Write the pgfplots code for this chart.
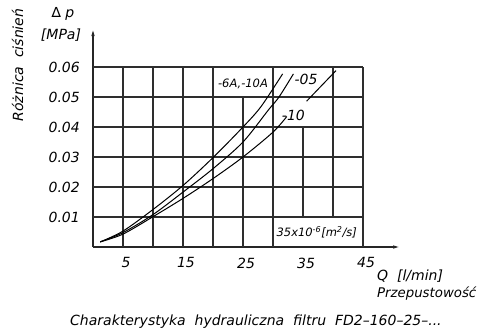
\documentclass[border=0pt]{standalone}
\usepackage{pgfplots}
\pgfplotsset{compat=1.18}
\usepackage{pgfplotstable}
\usepackage{fontspec}
\setmainfont{DejaVu Sans}
\usetikzlibrary{arrows.meta}

\pgfplotstableread{
x y
1.2 0.0017
5 0.0053
10 0.0125
15 0.0205
20 0.0298
25 0.0400
28 0.0468
31.6 0.0577
}\curveA
\pgfplotstableread{
x y
1.2 0.0017
5 0.0048
10 0.0108
15 0.0183
20 0.0261
25 0.0350
29.2 0.0456
31 0.0500
33.4 0.0577
}\curveB
\pgfplotstableread{
x y
1.2 0.0017
5 0.0043
10 0.0101
15 0.0162
20 0.0228
25 0.0300
30 0.0383
32.3 0.0435
35.6 0.0486
38 0.0536
40.5 0.0588
}\curveC

\newcommand{\bigf}{\fontsize{14}{16}\selectfont\itshape}
\newcommand{\smallf}{\fontsize{11.5}{13}\selectfont\itshape}
\tikzset{gridl/.style={line width=1.5pt, black!82}}

\begin{document}
\begin{tikzpicture}[x=1pt,y=1pt]
\useasboundingbox (0,0) rectangle (479,330);
\begin{axis}[
  at={(93pt,83pt)}, anchor=south west,
  x=6pt, y=3000pt,
  xmin=0, xmax=51.5, ymin=0, ymax=0.0733,
  axis lines=left,
  axis line style={line width=1.5pt, color=black!85, -{Latex[length=9pt,width=3.4pt]}},
  xtick={5,15,25,35,45},
  xticklabels={5,15,25,35,45},
  ytick={0.01,0.02,0.03,0.04,0.05,0.06},
  yticklabels={0.01,0.02,0.03,0.04,0.05,0.06},
  scaled y ticks=false, scaled x ticks=false,
  major tick length=0pt,
  tick label style={font=\bigf, inner sep=0pt},
  xticklabel style={anchor=north, yshift=-10.5pt, xshift=3pt},
  yticklabel style={anchor=east, xshift=-13pt},
  clip=false,
]
% grid
\draw[gridl]
  (axis cs:0,0.01) -- (axis cs:45,0.01)
  (axis cs:0,0.02) -- (axis cs:45,0.02)
  (axis cs:0,0.03) -- (axis cs:45,0.03)
  (axis cs:0,0.04) -- (axis cs:45,0.04)
  (axis cs:0,0.05) -- (axis cs:45,0.05)
  (axis cs:0,0.06) -- (axis cs:45,0.06);
\draw[gridl] (axis cs:5,0) -- (axis cs:5,0.06);
\draw[gridl] (axis cs:10,0) -- (axis cs:10,0.06);
\draw[gridl] (axis cs:15,0) -- (axis cs:15,0.06);
\draw[gridl] (axis cs:20,0) -- (axis cs:20,0.06);
\draw[gridl] (axis cs:25,0) -- (axis cs:25,0.05);
\draw[gridl] (axis cs:30,0) -- (axis cs:30,0.06);
\draw[gridl] (axis cs:35,0.01) -- (axis cs:35,0.04);
\draw[gridl] (axis cs:40,0.01) -- (axis cs:40,0.06);
\draw[gridl] (axis cs:45,0) -- (axis cs:45,0.06);
% curves
\addplot[smooth, line width=1pt, black] table {\curveA};
\addplot[smooth, line width=1pt, black] table {\curveB};
\addplot[smooth, line width=1pt, black, restrict x to domain=0:32.5] table {\curveC};
\addplot[smooth, line width=1pt, black, restrict x to domain=35:41] table {\curveC};
% labels
\node[inner sep=0pt, font=\smallf] at (axis cs:25.0,0.0542) {-6A,-10A};
\node[inner sep=0pt, font=\bigf] at (axis cs:35.5,0.0559) {-05};
\node[inner sep=0pt, font=\bigf] at (axis cs:33.4,0.0439) {-10};
\node[inner sep=0pt, font=\smallf] at (axis cs:37.3,0.0049) {35x10\textsuperscript{-6}[m\textsuperscript{2}/s]};
\end{axis}
\node[anchor=base west, inner sep=0pt, font=\bigf] at (70,4.3) {Charakterystyka\ \ hydrauliczna\ \ filtru\ \ FD2–160–25–...};
\node[anchor=west, inner sep=0pt, font=\bigf] at (377,54) {Q\ \ [l/min]};
\node[anchor=west, inner sep=0pt, font=\fontsize{13.3}{15}\selectfont\itshape] at (377,36) {Przepustowość};
\node[inner sep=0pt, font=\bigf] at (63,316) {∆\ p};
\node[inner sep=0pt, font=\bigf] at (61,295) {[MPa]};
\node[inner sep=0pt, font=\bigf, rotate=90] at (17.5,265) {Różnica\ \ ciśnień};
\end{tikzpicture}
\end{document}
